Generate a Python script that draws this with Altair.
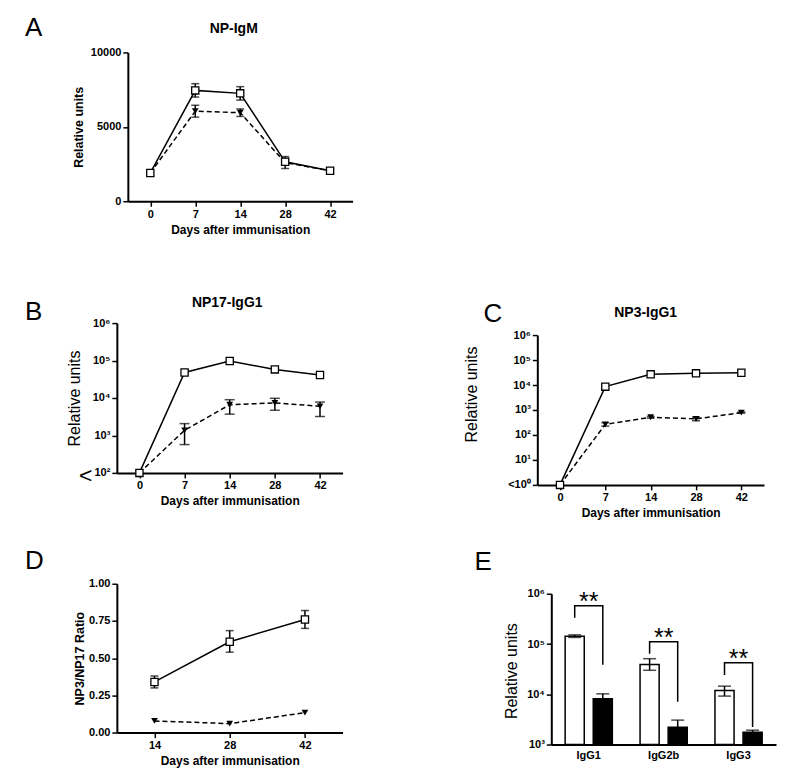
import altair as alt
import pandas as pd

FONT = "Liberation Sans"

DAYS = ["0", "7", "14", "28", "42"]
D_DAYS = ["14", "28", "42"]

# A: NP-IgM (linear)
A_OPEN = [1900, 7450, 7250, 2650, 2050]
A_OPEN_ERR = [0, 450, 450, 200, 100]
A_CLOSED = [1900, 6050, 5950, 2600, 2050]
A_CLOSED_ERR = [0, 400, 250, 400, 100]

# B: NP17-IgG1 (log)
B_OPEN = [100, 48000, 97000, 58000, 41000]
B_CLOSED = [100, 1370, 6600, 7400, 6000]
B_CLOSED_LO = [100, 570, 3700, 4700, 3200]
B_CLOSED_HI = [100, 2070, 9000, 9800, 7800]

# C: NP3-IgG1 (log)
C_OPEN = [1, 8600, 26700, 29300, 31100]
C_CLOSED = [1, 267, 510, 440, 780]
C_CLOSED_LO = [1, 225, 470, 370, 740]
C_CLOSED_HI = [1, 310, 550, 520, 830]

# D: NP3/NP17 ratio
D_OPEN = [0.34, 0.61, 0.76]
D_OPEN_LO = [0.30, 0.54, 0.70]
D_OPEN_HI = [0.38, 0.685, 0.82]
D_CLOSED = [0.078, 0.06, 0.134]

# E: bars (log)
E_CATS = ["IgG1", "IgG2b", "IgG3"]
E_GROUPS = ["open", "closed"]
E_OPEN = [143000, 39000, 11900]
E_OPEN_LO = [135000, 30000, 9200]
E_OPEN_HI = [152000, 51000, 14500]
E_CLOSED = [8100, 2200, 1760]
E_CLOSED_HI = [10200, 3060, 1930]
E_BASE = 1000
E_BRACKET_TOP = [577000, 111000, 42200]
E_BRACKET_LEFT_END = [333000, 63800, 24300]
E_BRACKET_RIGHT_END = [38600, 7060, 2240]
E_STARS = ["**", "**", "**"]

SUP = "['\u2070','\u00b9','\u00b2','\u00b3','\u2074','\u2075','\u2076']"
LOG_EXPR = "'10' + " + SUP + "[round(log(datum.value) / LN10)]"
LOG_EXPR_LT = "(datum.value == 1 ? '<' : '') + " + LOG_EXPR


def make_df(days, ov, olo, ohi, cv, clo, chi):
    rows = []
    for i, d in enumerate(days):
        rows.append(dict(day=d, idx=i, series="open", val=ov[i], lo=olo[i], hi=ohi[i]))
    for i, d in enumerate(days):
        rows.append(dict(day=d, idx=i, series="closed", val=cv[i], lo=clo[i], hi=chi[i]))
    return pd.DataFrame(rows)


def y_axis(values, fmt=None, label_expr=None, offset=0, title_x=-40, title_y=75,
           title_size=16, title_weight="normal"):
    kw = dict(values=values, offset=offset, titleX=title_x, titleY=title_y,
              titleFontSize=title_size, titleFontWeight=title_weight, titleAngle=270,
              titleAlign="center", titleBaseline="middle", labelOverlap=False,
              labelPadding=2)
    if fmt:
        kw["format"] = fmt
    if label_expr:
        kw["labelExpr"] = label_expr
    return alt.Axis(**kw)


X_AXIS = alt.Axis(titleY=32, titleBaseline="alphabetic", titleFontSize=12,
                  titleFontWeight="bold", labelAngle=0, labelPadding=2)


def label(text, x, y, size, weight="normal", align="left"):
    return alt.Chart(pd.DataFrame({"t": [text]})).mark_text(
        font=FONT, fontSize=size, fontWeight=weight, align=align,
        baseline="alphabetic", color="black"
    ).encode(text="t:N", x=alt.value(x), y=alt.value(y))


def line_panel(df, days, width, height, yscale, yaxis, ytitle, cap, xrange=None, extras=()):
    sc = dict(type="point", domain=days, padding=0.5)
    if xrange:
        sc["range"] = xrange
    X = alt.X("day:O", scale=alt.Scale(**sc), axis=X_AXIS, title="Days after immunisation")

    def Y(f):
        return alt.Y(f"{f}:Q", scale=yscale, axis=yaxis, title=ytitle)

    base = alt.Chart(df)
    err = base.transform_filter("datum.hi > datum.lo")
    op = base.transform_filter("datum.series == 'open'")
    cl = base.transform_filter("datum.series == 'closed'")
    layers = [
        err.mark_rule(color="black", strokeWidth=1.5).encode(x=X, y=Y("lo"), y2="hi:Q"),
        err.mark_tick(color="black", thickness=1.5, size=cap).encode(x=X, y=Y("hi")),
        err.mark_tick(color="black", thickness=1.5, size=cap).encode(x=X, y=Y("lo")),
        cl.mark_line(color="black", strokeWidth=1.5, strokeDash=[5, 3]).encode(
            x=X, y=Y("val"), order="idx:Q"),
        op.mark_line(color="black", strokeWidth=1.5).encode(x=X, y=Y("val"), order="idx:Q"),
        cl.mark_point(shape="triangle-down", size=45, filled=True, color="black",
                      opacity=1).encode(x=X, y=Y("val")),
        op.mark_point(shape="square", size=52, filled=True, fill="white", stroke="black",
                      strokeWidth=1.3, opacity=1).encode(x=X, y=Y("val")),
    ]
    layers += list(extras)
    return alt.layer(*layers).properties(width=width, height=height)


def spacer(w, h):
    return alt.Chart(pd.DataFrame({"s": [0]})).mark_point(opacity=0).encode(
        x=alt.X("s:Q", axis=None), y=alt.Y("s:Q", axis=None)
    ).properties(width=w, height=h)


# ---------- Panel A ----------
df_a = make_df(DAYS, A_OPEN, [v - e for v, e in zip(A_OPEN, A_OPEN_ERR)],
               [v + e for v, e in zip(A_OPEN, A_OPEN_ERR)],
               A_CLOSED, [v - e for v, e in zip(A_CLOSED, A_CLOSED_ERR)],
               [v + e for v, e in zip(A_CLOSED, A_CLOSED_ERR)])
panel_a = line_panel(
    df_a, DAYS, 236, 149,
    alt.Scale(domain=[0, 10000], nice=False),
    y_axis([0, 5000, 10000], fmt="d", offset=-11, title_x=-49, title_y=74.5,
           title_size=12.5, title_weight="bold"),
    "Relative units", 8, xrange=[11, 236],
    extras=[label("A", -92, -16, 26), label("NP-IgM", 117, -19, 14, "bold", "center")],
)

# ---------- Panel B ----------
df_b = make_df(DAYS, B_OPEN, B_OPEN, B_OPEN, B_CLOSED, B_CLOSED_LO, B_CLOSED_HI)
panel_b = line_panel(
    df_b, DAYS, 226, 150,
    alt.Scale(type="log", domain=[100, 1e6], nice=False),
    y_axis([1e2, 1e3, 1e4, 1e5, 1e6], label_expr=LOG_EXPR, title_x=-42, title_y=75),
    "Relative units", 10,
    extras=[label("B", -92, -3, 26), label("NP17-IgG1", 110.5, -16, 14, "bold", "center"),
            label("<", -38, 160, 23)],
)

# ---------- Panel C ----------
df_c = make_df(DAYS, C_OPEN, C_OPEN, C_OPEN, C_CLOSED, C_CLOSED_LO, C_CLOSED_HI)
panel_c = line_panel(
    df_c, DAYS, 227, 162,
    alt.Scale(type="log", domain=[1, 1e6], nice=False, range=[162, 12]),
    y_axis([1, 10, 1e2, 1e3, 1e4, 1e5, 1e6], label_expr=LOG_EXPR_LT, title_x=-66, title_y=71),
    "Relative units", 8,
    extras=[label("C", -54, -1, 26), label("NP3-IgG1", 108.5, -6, 14, "bold", "center")],
)

# ---------- Panel D ----------
df_d = make_df(D_DAYS, D_OPEN, D_OPEN_LO, D_OPEN_HI, D_CLOSED, D_CLOSED, D_CLOSED)
panel_d = line_panel(
    df_d, D_DAYS, 226, 149,
    alt.Scale(domain=[0, 1], nice=False),
    y_axis([0, 0.25, 0.5, 0.75, 1], fmt=".2f", title_x=-37, title_y=74.5,
           title_size=12.5, title_weight="bold"),
    "NP3/NP17 Ratio", 8,
    extras=[label("D", -92, -15, 26)],
)

# ---------- Panel E ----------
rows = []
for i, c in enumerate(E_CATS):
    rows.append(dict(cat=c, grp="open", val=E_OPEN[i], lo=E_OPEN_LO[i], hi=E_OPEN_HI[i], base=E_BASE))
    rows.append(dict(cat=c, grp="closed", val=E_CLOSED[i], lo=E_CLOSED[i], hi=E_CLOSED_HI[i], base=E_BASE))
df_e = pd.DataFrame(rows)

br = []
for i, c in enumerate(E_CATS):
    br.append(dict(cat=c, grp="open", ord=0, val=E_BRACKET_LEFT_END[i]))
    br.append(dict(cat=c, grp="open", ord=1, val=E_BRACKET_TOP[i]))
    br.append(dict(cat=c, grp="closed", ord=2, val=E_BRACKET_TOP[i]))
    br.append(dict(cat=c, grp="closed", ord=3, val=E_BRACKET_RIGHT_END[i]))
df_br = pd.DataFrame(br)
df_st = pd.DataFrame({"cat": E_CATS, "top": E_BRACKET_TOP, "star": E_STARS})

EX = alt.X("cat:N", sort=E_CATS,
           scale=alt.Scale(domain=E_CATS, paddingInner=0.25, paddingOuter=0.125, range=[14, 239]),
           axis=alt.Axis(ticks=False, labelPadding=5, labelAngle=0), title=None)
EXO = alt.XOffset("grp:N", sort=E_GROUPS,
                  scale=alt.Scale(domain=E_GROUPS, paddingInner=0.32, paddingOuter=0.16))
E_YSCALE = alt.Scale(type="log", domain=[1000, 1e6], nice=False, range=[161, 10])
E_YAXIS = y_axis([1e3, 1e4, 1e5, 1e6], label_expr=LOG_EXPR, offset=-14, title_x=-40, title_y=87)


def EY(f):
    return alt.Y(f"{f}:Q", scale=E_YSCALE, axis=E_YAXIS, title="Relative units")


be = alt.Chart(df_e)
panel_e = alt.layer(
    be.mark_bar(stroke="black", strokeWidth=1.5).encode(
        x=EX, xOffset=EXO, y=EY("val"), y2="base:Q",
        fill=alt.Fill("grp:N", scale=alt.Scale(domain=E_GROUPS, range=["white", "black"]), legend=None)),
    be.transform_filter("datum.hi > datum.lo").mark_rule(color="black", strokeWidth=1.5).encode(
        x=EX, xOffset=EXO, y=EY("lo"), y2="hi:Q"),
    be.mark_tick(color="black", thickness=1.5, size=13).encode(x=EX, xOffset=EXO, y=EY("hi")),
    be.transform_filter("datum.grp == 'open'").mark_tick(color="black", thickness=1.5, size=13).encode(
        x=EX, xOffset=EXO, y=EY("lo")),
    alt.Chart(df_br).mark_line(color="black", strokeWidth=1.5).encode(
        x=EX, xOffset=EXO, y=EY("val"), detail="cat:N", order="ord:Q"),
    alt.Chart(df_st).mark_text(font=FONT, fontSize=25, dy=4, baseline="alphabetic",
                               align="center", color="black").encode(
        x=EX, y=EY("top"), text="star:N"),
    label("E", -63, -14, 26),
).properties(width=239, height=161)

cells = [panel_a, spacer(10, 10),
         spacer(10, 122), spacer(10, 122),
         panel_b, panel_c,
         spacer(10, 99), spacer(10, 99),
         panel_d, panel_e]

chart = alt.concat(
    *cells, columns=2, spacing={"row": 0, "column": 185}, bounds="flush", align="each"
).properties(
    padding={"left": 17, "top": 7, "right": 5, "bottom": 5}, background="white"
).configure_view(stroke=None).configure_axis(
    domainColor="black", domainWidth=2, tickColor="black", tickWidth=1.5, tickSize=5,
    labelFont=FONT, labelFontWeight="bold", labelFontSize=11, labelColor="black",
    titleFont=FONT, titleColor="black", grid=False
)

chart.save("out.html", embed_options={"renderer": "svg", "actions": False})
